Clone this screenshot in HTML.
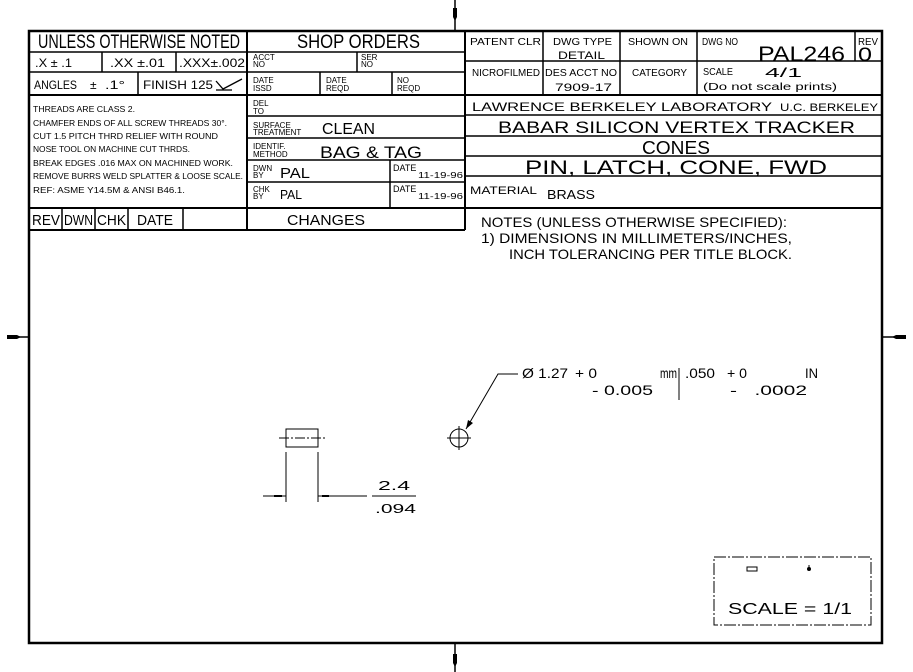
<!DOCTYPE html>
<html><head><meta charset="utf-8"><style>
html,body{margin:0;padding:0;background:#fff;}
svg{display:block;}
text{font-family:"Liberation Sans",sans-serif;fill:#000;}
</style></head><body>
<svg width="913" height="672" viewBox="0 0 913 672" xmlns="http://www.w3.org/2000/svg">
<g stroke="#000" fill="none">
<rect x="29" y="31" width="853" height="612" stroke-width="2.5"/>
<line x1="455" y1="0" x2="455" y2="31" stroke-width="1.5"/>
<line x1="455" y1="643" x2="455" y2="672" stroke-width="1.5"/>
<line x1="7" y1="337" x2="29" y2="337" stroke-width="1.5"/>
<line x1="882" y1="337" x2="906" y2="337" stroke-width="1.5"/>
</g>
<g fill="#000">
<polygon points="453,8 457,8 457,17 455,21 453,17"/>
<polygon points="453,654 457,654 457,663 455,667 453,663" />
<polygon points="7,335 17,335 21,337 17,339 7,339"/>
<polygon points="906,335 896,335 892,337 896,339 906,339"/>
</g>

<g stroke="#000" fill="none" stroke-width="1.5">
<line x1="29" y1="52" x2="465" y2="52"/>
<line x1="29" y1="72" x2="465" y2="72"/>
<line x1="29" y1="95" x2="882" y2="95" stroke-width="2"/>
<line x1="29" y1="208" x2="882" y2="208" stroke-width="2"/>
<line x1="29" y1="230" x2="465" y2="230" stroke-width="2"/>
<line x1="247" y1="31" x2="247" y2="230" stroke-width="2"/>
<line x1="465" y1="31" x2="465" y2="230" stroke-width="2"/>
<line x1="102" y1="52" x2="102" y2="72"/>
<line x1="176" y1="52" x2="176" y2="72"/>
<line x1="138" y1="72" x2="138" y2="95"/>
<line x1="357" y1="52" x2="357" y2="72"/>
<line x1="320" y1="72" x2="320" y2="95"/>
<line x1="392" y1="72" x2="392" y2="95"/>
<line x1="247" y1="116" x2="465" y2="116"/>
<line x1="247" y1="138" x2="465" y2="138"/>
<line x1="247" y1="160" x2="465" y2="160"/>
<line x1="247" y1="182" x2="465" y2="182"/>
<line x1="390" y1="160" x2="390" y2="208"/>
<line x1="62" y1="208" x2="62" y2="230"/>
<line x1="95" y1="208" x2="95" y2="230"/>
<line x1="128" y1="208" x2="128" y2="230"/>
<line x1="183" y1="208" x2="183" y2="230"/>
<line x1="465" y1="61" x2="882" y2="61"/>
<line x1="543" y1="31" x2="543" y2="95"/>
<line x1="620" y1="31" x2="620" y2="95"/>
<line x1="697" y1="31" x2="697" y2="95"/>
<line x1="855" y1="31" x2="855" y2="61"/>
<line x1="465" y1="115" x2="882" y2="115"/>
<line x1="465" y1="136" x2="882" y2="136"/>
<line x1="465" y1="156" x2="882" y2="156"/>
<line x1="465" y1="176" x2="882" y2="176"/>
<polyline points="216,81 223,89 242,79" stroke-width="1.3"/>
<line x1="216" y1="90" x2="232" y2="90" stroke-width="1.3"/>
</g>

<text x="38" y="48" font-size="19" textLength="202" lengthAdjust="spacingAndGlyphs">UNLESS OTHERWISE NOTED</text>
<text x="35" y="67" font-size="12" textLength="37" lengthAdjust="spacingAndGlyphs">.X ± .1</text>
<text x="110" y="67" font-size="12" textLength="55" lengthAdjust="spacingAndGlyphs">.XX ±.01</text>
<text x="179" y="67" font-size="12" textLength="66" lengthAdjust="spacingAndGlyphs">.XXX±.002</text>
<text x="34" y="89" font-size="12" textLength="43" lengthAdjust="spacingAndGlyphs">ANGLES</text>
<text x="90" y="89" font-size="12">±</text>
<text x="105" y="89" font-size="12" textLength="20" lengthAdjust="spacingAndGlyphs">.1°</text>
<text x="143" y="89" font-size="12" textLength="70" lengthAdjust="spacingAndGlyphs">FINISH 125</text>
<g font-size="8.5">
<text x="33" y="112" textLength="102" lengthAdjust="spacingAndGlyphs">THREADS ARE CLASS 2.</text>
<text x="33" y="126" textLength="194" lengthAdjust="spacingAndGlyphs">CHAMFER ENDS OF ALL SCREW THREADS 30°.</text>
<text x="33" y="139" textLength="185" lengthAdjust="spacingAndGlyphs">CUT 1.5 PITCH THRD RELIEF WITH ROUND</text>
<text x="33" y="152" textLength="157" lengthAdjust="spacingAndGlyphs">NOSE TOOL ON MACHINE CUT THRDS.</text>
<text x="33" y="166" textLength="200" lengthAdjust="spacingAndGlyphs">BREAK EDGES .016 MAX ON MACHINED WORK.</text>
<text x="33" y="179" textLength="210" lengthAdjust="spacingAndGlyphs">REMOVE BURRS WELD SPLATTER &amp; LOOSE SCALE.</text>
<text x="33" y="193" textLength="152" lengthAdjust="spacingAndGlyphs">REF: ASME Y14.5M &amp; ANSI B46.1.</text>
</g>
<g font-size="15">
<text x="32" y="225" textLength="28" lengthAdjust="spacingAndGlyphs">REV</text>
<text x="64" y="225" textLength="29" lengthAdjust="spacingAndGlyphs">DWN</text>
<text x="97" y="225" textLength="29" lengthAdjust="spacingAndGlyphs">CHK</text>
<text x="137" y="225" textLength="36" lengthAdjust="spacingAndGlyphs">DATE</text>
<text x="287" y="225" textLength="78" lengthAdjust="spacingAndGlyphs">CHANGES</text>
</g>

<text x="297" y="48" font-size="19" textLength="123" lengthAdjust="spacingAndGlyphs">SHOP ORDERS</text>
<g font-size="8">
<text x="253" y="60">ACCT</text><text x="253" y="67">NO</text>
<text x="361" y="60">SER</text><text x="361" y="67">NO</text>
<text x="253" y="83">DATE</text><text x="253" y="91">ISSD</text>
<text x="326" y="83">DATE</text><text x="326" y="91">REQD</text>
<text x="397" y="83">NO</text><text x="397" y="91">REQD</text>
<text x="253" y="106">DEL</text><text x="253" y="114">TO</text>
<text x="253" y="128">SURFACE</text><text x="253" y="135">TREATMENT</text>
<text x="253" y="149">IDENTIF.</text><text x="253" y="157">METHOD</text>
<text x="253" y="171">DWN</text><text x="253" y="178">BY</text>
<text x="253" y="192">CHK</text><text x="253" y="199">BY</text>
<text x="393" y="171" font-size="9">DATE</text>
<text x="393" y="192" font-size="9">DATE</text>
<text x="418" y="178" textLength="45" lengthAdjust="spacingAndGlyphs">11-19-96</text>
<text x="418" y="199" textLength="45" lengthAdjust="spacingAndGlyphs">11-19-96</text>
</g>
<text x="322" y="134" font-size="16" textLength="53" lengthAdjust="spacingAndGlyphs">CLEAN</text>
<text x="320" y="158" font-size="17" textLength="102" lengthAdjust="spacingAndGlyphs">BAG &amp; TAG</text>
<text x="280" y="178" font-size="15" textLength="30" lengthAdjust="spacingAndGlyphs">PAL</text>
<text x="280" y="199" font-size="13" textLength="22" lengthAdjust="spacingAndGlyphs">PAL</text>

<g font-size="10">
<text x="470" y="45" textLength="71" lengthAdjust="spacingAndGlyphs">PATENT CLR</text>
<text x="553" y="45" textLength="59" lengthAdjust="spacingAndGlyphs">DWG TYPE</text>
<text x="558" y="59" font-size="11" textLength="47" lengthAdjust="spacingAndGlyphs">DETAIL</text>
<text x="628" y="45" textLength="60" lengthAdjust="spacingAndGlyphs">SHOWN ON</text>
<text x="702" y="45" textLength="36" lengthAdjust="spacingAndGlyphs">DWG NO</text>
<text x="858" y="45" textLength="20" lengthAdjust="spacingAndGlyphs">REV</text>
<text x="472" y="76" textLength="68" lengthAdjust="spacingAndGlyphs">NICROFILMED</text>
<text x="545" y="76" textLength="72" lengthAdjust="spacingAndGlyphs">DES ACCT NO</text>
<text x="555" y="91" font-size="11" textLength="57" lengthAdjust="spacingAndGlyphs">7909-17</text>
<text x="632" y="76" textLength="55" lengthAdjust="spacingAndGlyphs">CATEGORY</text>
<text x="703" y="75" textLength="30" lengthAdjust="spacingAndGlyphs">SCALE</text>
<text x="703" y="90" textLength="134" lengthAdjust="spacingAndGlyphs">(Do not scale prints)</text>
</g>
<text x="765" y="77" font-size="13" textLength="37" lengthAdjust="spacingAndGlyphs">4/1</text>
<text x="758" y="61" font-size="21" textLength="87" lengthAdjust="spacingAndGlyphs">PAL246</text>
<text x="858" y="61" font-size="19" textLength="14" lengthAdjust="spacingAndGlyphs">0</text>
<text x="472" y="111" font-size="12" textLength="300" lengthAdjust="spacingAndGlyphs">LAWRENCE BERKELEY LABORATORY</text>
<text x="780" y="111" font-size="11" textLength="98" lengthAdjust="spacingAndGlyphs">U.C. BERKELEY</text>
<text x="498" y="133" font-size="17" textLength="357" lengthAdjust="spacingAndGlyphs">BABAR SILICON VERTEX TRACKER</text>
<text x="642" y="154" font-size="18" textLength="68" lengthAdjust="spacingAndGlyphs">CONES</text>
<text x="525" y="174" font-size="19" textLength="302" lengthAdjust="spacingAndGlyphs">PIN, LATCH, CONE, FWD</text>
<text x="470" y="194" font-size="11" textLength="67" lengthAdjust="spacingAndGlyphs">MATERIAL</text>
<text x="547" y="199" font-size="13" textLength="48" lengthAdjust="spacingAndGlyphs">BRASS</text>

<g font-size="14">
<text x="481" y="227" textLength="306" lengthAdjust="spacingAndGlyphs">NOTES (UNLESS OTHERWISE SPECIFIED):</text>
<text x="481" y="243" textLength="311" lengthAdjust="spacingAndGlyphs">1) DIMENSIONS IN MILLIMETERS/INCHES,</text>
<text x="509" y="259" textLength="283" lengthAdjust="spacingAndGlyphs">INCH TOLERANCING PER TITLE BLOCK.</text>
</g>

<g stroke="#000" fill="none" stroke-width="1">
<rect x="286" y="429" width="32" height="18"/>
<line x1="279" y1="438" x2="325" y2="438" stroke-dasharray="10,2,2,2"/>
<line x1="286" y1="452" x2="286" y2="502"/>
<line x1="318" y1="452" x2="318" y2="502"/>
<line x1="263" y1="496" x2="286" y2="496"/>
<line x1="318" y1="496" x2="367" y2="496"/>
<line x1="372" y1="496" x2="416" y2="496"/>
<circle cx="459" cy="438" r="9"/>
<line x1="447" y1="438" x2="471" y2="438"/>
<line x1="459" y1="426" x2="459" y2="450"/>
<polyline points="518,374 498,374 466,429"/>
<line x1="679" y1="368" x2="679" y2="400"/>
<rect x="714" y="557" width="157" height="68" stroke-dasharray="12,2,2,2"/>
<rect x="747" y="567" width="10" height="4"/>
</g>
<g fill="#000">
<rect x="274" y="495" width="8" height="2"/>
<rect x="322" y="495" width="7" height="2"/>
<polygon points="466,429 468,420 473,423"/>
<circle cx="809" cy="569" r="2"/>
<rect x="808.5" y="565" width="1" height="3"/>
</g>
<g font-size="13">
<text x="378" y="490" textLength="32" lengthAdjust="spacingAndGlyphs">2.4</text>
<text x="375" y="513" textLength="41" lengthAdjust="spacingAndGlyphs">.094</text>
</g>
<g font-size="14">
<text x="522" y="378" textLength="46" lengthAdjust="spacingAndGlyphs">Ø 1.27</text>
<text x="575" y="378" textLength="22" lengthAdjust="spacingAndGlyphs">+ 0</text>
<text x="660" y="378" textLength="17" lengthAdjust="spacingAndGlyphs">mm</text>
<text x="592" y="395" textLength="61" lengthAdjust="spacingAndGlyphs">- 0.005</text>
<text x="685" y="378" textLength="30" lengthAdjust="spacingAndGlyphs">.050</text>
<text x="727" y="378" textLength="20" lengthAdjust="spacingAndGlyphs">+ 0</text>
<text x="805" y="378" textLength="13" lengthAdjust="spacingAndGlyphs">IN</text>
<text x="730" y="395" textLength="77" lengthAdjust="spacingAndGlyphs">-&#160;&#160;&#160;.0002</text>
</g>
<text x="728" y="614" font-size="16" textLength="124" lengthAdjust="spacingAndGlyphs">SCALE = 1/1</text>
</svg>
</body></html>
